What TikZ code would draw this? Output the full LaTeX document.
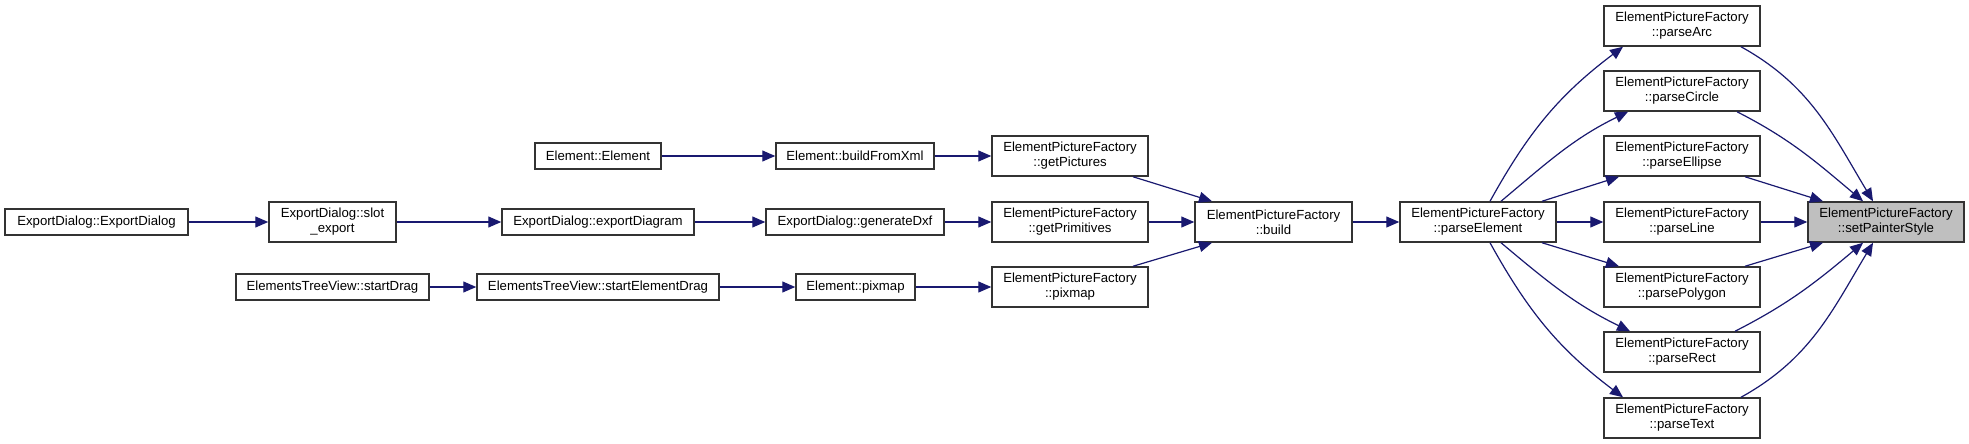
\documentclass[tikz,border=0pt]{standalone}
\usepackage{fontspec}
\setmainfont{Liberation Sans}
\usetikzlibrary{arrows.meta}
\definecolor{edgeblue}{HTML}{191970}
\definecolor{hlgray}{HTML}{BFBFBF}
\definecolor{boxline}{HTML}{333333}
\begin{document}
\begin{tikzpicture}[x=0.5pt,y=-0.5pt,
  fn/.style={draw=boxline, line width=0.75pt, fill=white, inner sep=0pt, align=center,
    font=\fontsize{6.6pt}{7.5pt}\selectfont},
  one/.style={fn, minimum height=13pt},
  two/.style={fn, minimum height=20pt},
  pf/.style={two, minimum width=78pt},
  e/.style={draw=edgeblue, line width=0.6pt, -{Triangle[length=6.5pt,width=5.5pt]}}
]
\fill[white] (0,0) rectangle (1969,444);
\useasboundingbox (0,0) rectangle (1969,444);

% left part
\node[one, minimum width=91.5pt] (ed) at (96.5,222) {ExportDialog::ExportDialog};
\node[two, minimum width=63.5pt] (slot) at (332.5,222) {ExportDialog::slot\\\_export};
\node[one, minimum width=96pt] (expd) at (598,222) {ExportDialog::exportDiagram};
\node[one, minimum width=63pt] (eel) at (598,156) {Element::Element};
\node[one, minimum width=79pt] (bfx) at (855,156) {Element::buildFromXml};
\node[one, minimum width=89pt] (gdxf) at (855,222) {ExportDialog::generateDxf};
\node[one, minimum width=96.5pt] (sd) at (332.5,287) {ElementsTreeView::startDrag};
\node[one, minimum width=121pt] (sed) at (598,287) {ElementsTreeView::startElementDrag};
\node[one, minimum width=59.5pt] (epix) at (855.5,287) {Element::pixmap};

\node[pf] (gpic) at (1070,156) {ElementPictureFactory\\::getPictures};
\node[pf] (gprim) at (1070,222) {ElementPictureFactory\\::getPrimitives};
\node[pf] (fpix) at (1070,287) {ElementPictureFactory\\::pixmap};
\node[two, minimum width=78.5pt] (build) at (1273.5,222) {ElementPictureFactory\\::build};
\node[pf] (pel) at (1478,222) {ElementPictureFactory\\::parseElement};

% parse column
\node[pf] (arc) at (1682,26) {ElementPictureFactory\\::parseArc};
\node[pf] (circ) at (1682,91) {ElementPictureFactory\\::parseCircle};
\node[pf] (ell) at (1682,156) {ElementPictureFactory\\::parseEllipse};
\node[pf] (lin) at (1682,222) {ElementPictureFactory\\::parseLine};
\node[pf] (poly) at (1682,287) {ElementPictureFactory\\::parsePolygon};
\node[pf] (rect) at (1682,352) {ElementPictureFactory\\::parseRect};
\node[pf] (txt) at (1682,418) {ElementPictureFactory\\::parseText};

\node[pf, fill=hlgray] (sps) at (1886,222) {ElementPictureFactory\\::setPainterStyle};

% horizontal chains
\draw[e] (ed) -- (slot);
\draw[e] (slot) -- (expd);
\draw[e] (expd) -- (gdxf);
\draw[e] (gdxf) -- (gprim);
\draw[e] (eel) -- (bfx);
\draw[e] (bfx) -- (gpic);
\draw[e] (sd) -- (sed);
\draw[e] (sed) -- (epix);
\draw[e] (epix) -- (fpix);
\draw[e] (gprim) -- (build);
\draw[e] ([xshift=31.5pt]gpic.south) -- ([xshift=-30.75pt]build.north);
\draw[e] ([xshift=31.5pt]fpix.north) -- ([xshift=-30.75pt]build.south);
\draw[e] (build) -- (pel);

% parseElement -> parse*
\draw[e] ([xshift=6pt]pel.north) to[out=61,in=217] ([xshift=-29.5pt]arc.south);
\draw[e] ([xshift=11.5pt]pel.north) to[out=40,in=206] ([xshift=-27pt]circ.south);
\draw[e] ([xshift=32pt]pel.north) -- ([xshift=-31.5pt]ell.south);
\draw[e] (pel) -- (lin);
\draw[e] ([xshift=32pt]pel.south) -- ([xshift=-31.5pt]poly.north);
\draw[e] ([xshift=11.5pt]pel.south) to[out=-40,in=154] ([xshift=-26pt]rect.north);
\draw[e] ([xshift=6pt]pel.south) to[out=-61,in=143] ([xshift=-29.5pt]txt.north);

% parse* -> setPainterStyle
\draw[e] ([xshift=29.5pt]arc.south) to[out=-29,in=121] ([xshift=-6.5pt]sps.north);
\draw[e] ([xshift=27.5pt]circ.south) to[out=-27,in=140] ([xshift=-11.5pt]sps.north);
\draw[e] ([xshift=31.5pt]ell.south) -- ([xshift=-31.5pt]sps.north);
\draw[e] (lin) -- (sps);
\draw[e] ([xshift=31.5pt]poly.north) -- ([xshift=-31.5pt]sps.south);
\draw[e] ([xshift=26.5pt]rect.north) to[out=27,in=220] ([xshift=-11.5pt]sps.south);
\draw[e] ([xshift=29.5pt]txt.north) to[out=29,in=239] ([xshift=-6.5pt]sps.south);
\end{tikzpicture}
\end{document}
